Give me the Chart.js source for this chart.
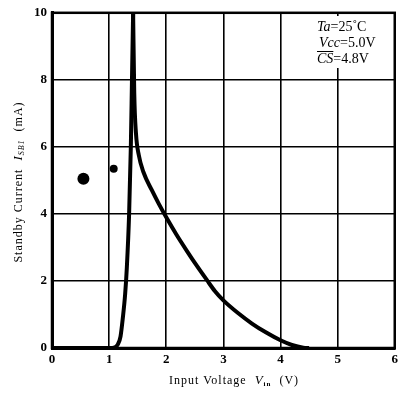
<!DOCTYPE html>
<html>
<head>
<meta charset="utf-8">
<script src="https://cdn.jsdelivr.net/npm/chart.js@4"></script>
<style>
  html, body { margin: 0; padding: 0; background: #fff; }
  #wrap { width: 402px; height: 403px; }
</style>
</head>
<body>
<div id="wrap"><canvas id="standbyChart"></canvas></div>
<script>
// rising branch (Vin in V, Isb1 in mA)
const riseV = [0, 1.0, 1.1, 1.15, 1.2, 1.24, 1.28, 1.31, 1.35, 1.38, 1.40, 1.42];
const riseI = [0, 0, 0.02, 0.1, 0.35, 0.9, 1.6, 2.4, 4, 6, 8, 10];
// falling branch
const fallV = [1.42, 1.44, 1.47, 1.52, 1.6, 1.75, 1.87, 2.0, 2.18, 2.36, 2.54, 2.71, 2.85, 3.0, 3.25, 3.5, 3.75, 4.0, 4.2, 4.4, 4.5];
const fallI = [10, 7.6, 6.4, 5.75, 5.25, 4.7, 4.3, 3.9, 3.38, 2.9, 2.44, 2.03, 1.7, 1.42, 1.05, 0.73, 0.46, 0.23, 0.09, 0.01, 0];
// ink blots on the scan
const blotV = [0.55, 1.08];
const blotI = [5.05, 5.35];
const blotR = [6, 4];

const xTicks = [0, 1, 2, 3, 4, 5, 6];
const yTicks = [0, 2, 4, 6, 8, 10];

const toXY = (xs, ys) => xs.map((v, i) => ({x: v, y: ys[i]}));
const SERIF = '"Liberation Serif", "DejaVu Serif", serif';

// frame, white note box + axis titles with subscripts
const extras = {
  id: 'extras',
  afterDraw(chart) {
    const ctx = chart.ctx;
    const a = chart.chartArea;
    ctx.save();
    ctx.strokeStyle = '#000';
    ctx.lineWidth = 2.5;
    ctx.strokeRect(a.left, a.top, a.right - a.left, a.bottom - a.top);

    ctx.fillStyle = '#fff';
    ctx.fillRect(292, 16, a.right - 295, 52);
    ctx.fillStyle = '#000';
    ctx.textBaseline = 'alphabetic';

    // note lines: italic name, upright value
    const rows = [
      ['Ta', '=25˚C', 317, 31],
      ['Vcc', '=5.0V', 319, 47],
      ['CS', '=4.8V', 317, 63]
    ];
    rows.forEach((r, i) => {
      ctx.font = 'italic 14px ' + SERIF;
      ctx.fillText(r[0], r[2], r[3]);
      const w = ctx.measureText(r[0]).width;
      ctx.font = '14px ' + SERIF;
      ctx.fillText(r[1], r[2] + w, r[3]);
      if (i === 2) {
        ctx.fillRect(r[2], r[3] - 12, w, 1);
      }
    });

    // x title
    let parts = [
      {t: 'Input Voltage  ', f: '12px ' + SERIF, dy: 0},
      {t: 'V', f: 'italic 13px ' + SERIF, dy: 0},
      {t: 'in', f: 'bold 7px ' + SERIF, dy: 2},
      {t: '  (V)', f: '12px ' + SERIF, dy: 0}
    ];
    drawParts(ctx, parts, 234, 384);

    // y title
    parts = [
      {t: 'Standby Current  ', f: '12px ' + SERIF, dy: 0},
      {t: 'I', f: 'italic 13px ' + SERIF, dy: 0},
      {t: 'SB1', f: 'italic 8px ' + SERIF, dy: 2},
      {t: '  (mA)', f: '12px ' + SERIF, dy: 0}
    ];
    ctx.translate(22, 182);
    ctx.rotate(-Math.PI / 2);
    drawParts(ctx, parts, 0, 0);
    ctx.restore();
  }
};

function drawParts(ctx, parts, cx, cy) {
  ctx.letterSpacing = '1px';
  let total = 0;
  parts.forEach(p => { ctx.font = p.f; total += ctx.measureText(p.t).width; });
  let x = cx - total / 2;
  parts.forEach(p => {
    ctx.font = p.f;
    ctx.fillText(p.t, x, cy + p.dy);
    x += ctx.measureText(p.t).width;
  });
  ctx.letterSpacing = '0px';
}

new Chart(document.getElementById('standbyChart'), {
  type: 'line',
  data: {
    datasets: [
      {
        label: 'rise',
        data: toXY(riseV, riseI),
        borderColor: '#000',
        borderWidth: 4,
        pointRadius: 0,
        cubicInterpolationMode: 'monotone',
        fill: false
      },
      {
        label: 'fall',
        data: toXY(fallV, fallI),
        borderColor: '#000',
        borderWidth: 4,
        pointRadius: 0,
        cubicInterpolationMode: 'monotone',
        fill: false
      },
      {
        label: 'blots',
        data: toXY(blotV, blotI),
        showLine: false,
        pointRadius: blotR,
        pointBackgroundColor: '#000',
        pointBorderWidth: 0
      }
    ]
  },
  options: {
    responsive: true,
    maintainAspectRatio: false,
    animation: false,
    layout: {padding: {top: 10, right: 4, left: 0, bottom: 0}},
    plugins: {
      legend: {display: false},
      tooltip: {enabled: false}
    },
    scales: {
      x: {
        type: 'linear',
        min: 0,
        max: 6,
        afterFit: s => { s.height = 55; },
        afterBuildTicks: s => { s.ticks = xTicks.map(v => ({value: v})); },
        ticks: {
          color: '#000',
          font: {family: SERIF, size: 13, weight: 'bold'},
          padding: 4,
          maxRotation: 0
        },
        grid: {color: '#000', lineWidth: 1.6, drawTicks: false},
        border: {color: '#000', width: 3}
      },
      y: {
        min: 0,
        max: 10,
        afterFit: s => { s.width = 52; },
        afterBuildTicks: s => { s.ticks = yTicks.map(v => ({value: v})); },
        ticks: {
          color: '#000',
          font: {family: SERIF, size: 13, weight: 'bold'},
          padding: 5
        },
        grid: {color: '#000', lineWidth: 1.6, drawTicks: false},
        border: {color: '#000', width: 3}
      }
    }
  },
  plugins: [extras]
});
</script>
</body>
</html>
